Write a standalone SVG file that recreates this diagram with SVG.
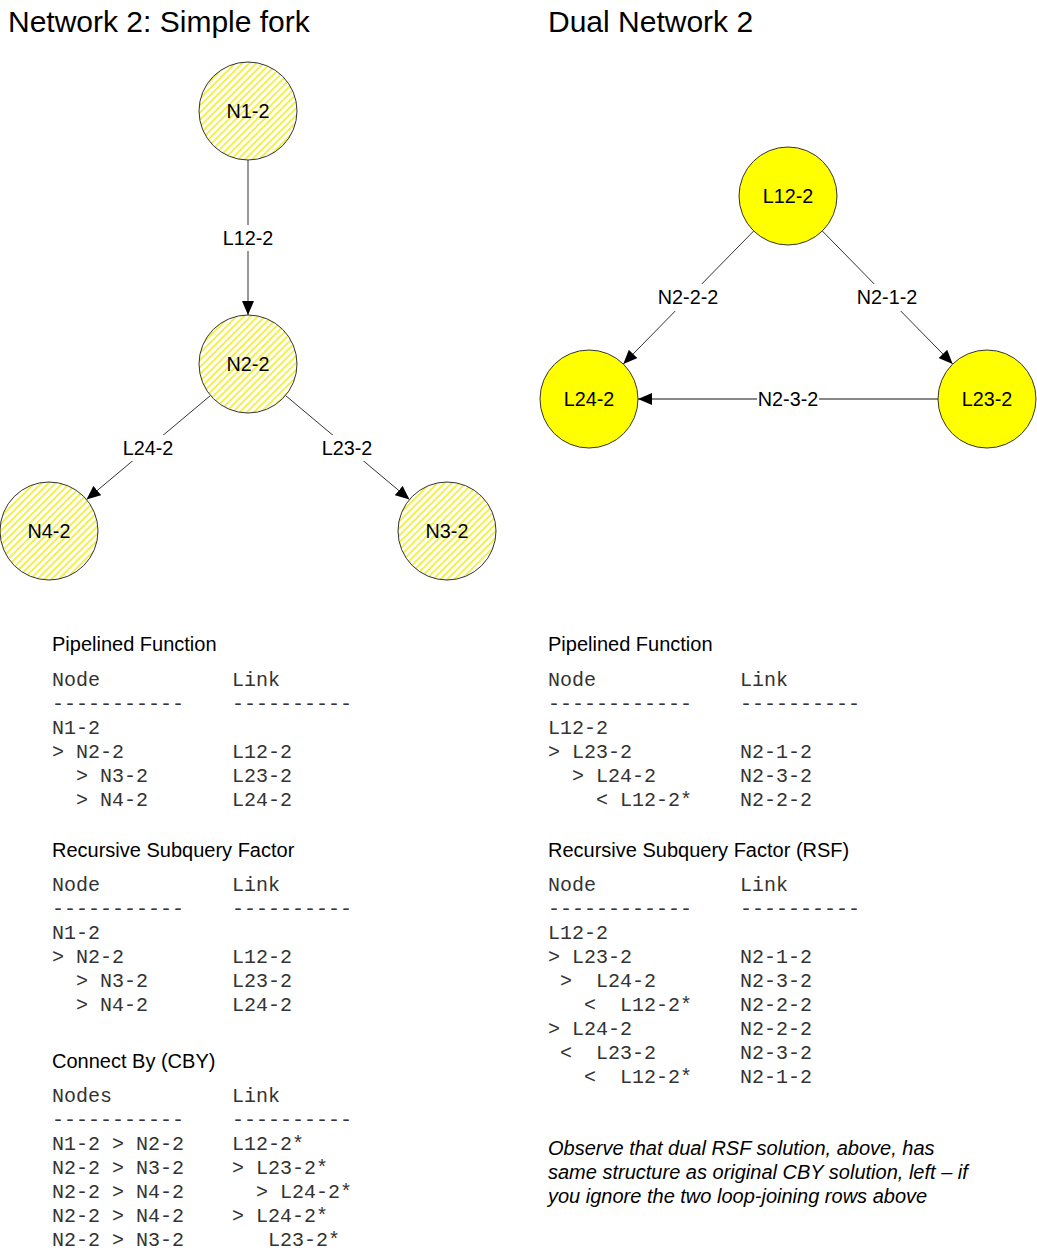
<svg xmlns="http://www.w3.org/2000/svg" width="1037" height="1253" viewBox="0 0 1037 1253">
<style>
.bg{fill:#fff}
.title{font-family:"Liberation Sans",Arial,sans-serif;font-size:30px;fill:#000}
.lbl{font-family:"Liberation Sans",Arial,sans-serif;font-size:19.8px;fill:#000;text-anchor:middle}
.head{font-family:"Liberation Sans",Arial,sans-serif;font-size:20px;fill:#000}
.note{font-family:"Liberation Sans",Arial,sans-serif;font-size:20px;font-style:italic;fill:#000}
.mono{font-family:"Liberation Mono","Courier New",monospace;font-size:20px;fill:#333;white-space:pre}
.hatch{fill:url(#hatch);stroke:#333;stroke-width:1}
.solid{fill:#ffff00;stroke:#333;stroke-width:1}
.edge{stroke:#333;stroke-width:1;fill:none;marker-end:url(#arrow)}
.gap{fill:#fff}
</style>
<defs>
<pattern id="hatch" patternUnits="userSpaceOnUse" width="5" height="5" patternTransform="rotate(45)">
<rect width="5" height="5" fill="#fff"/>
<line x1="1" y1="0" x2="1" y2="5" stroke="#eeea00" stroke-width="1.4"/>
</pattern>
<marker id="arrow" viewBox="0 0 14 12" markerWidth="14" markerHeight="12" refX="14" refY="6" orient="auto" markerUnits="userSpaceOnUse">
<path d="M0,0 L14,6 L0,12 z" fill="#000"/>
</marker>
</defs>
<rect class="bg" x="0" y="0" width="1037" height="1253"/>

<text class="title" x="8" y="32">Network 2: Simple fork</text>
<text class="title" x="548" y="32">Dual Network 2</text>

<g id="connectors">
<line class="edge" x1="248" y1="160" x2="248" y2="315"/>
<line class="edge" x1="210.5" y1="395.5" x2="86.5" y2="499.5"/>
<line class="edge" x1="285.5" y1="395.5" x2="409.5" y2="499.5"/>
<line class="edge" x1="753.7" y1="231" x2="623.3" y2="364"/>
<line class="edge" x1="822.3" y1="231" x2="952.7" y2="364"/>
<line class="edge" x1="938" y1="399" x2="638" y2="399" style="stroke:#111"/>
<rect class="gap" x="221" y="225" width="54" height="26"/>
<text class="lbl" x="248" y="245">L12-2</text>
<rect class="gap" x="121" y="435" width="55" height="26"/>
<text class="lbl" x="148" y="455">L24-2</text>
<rect class="gap" x="320" y="435" width="55" height="26"/>
<text class="lbl" x="347" y="455">L23-2</text>
<rect class="gap" x="657" y="284" width="63" height="27"/>
<text class="lbl" x="688" y="304">N2-2-2</text>
<rect class="gap" x="856" y="284" width="63" height="27"/>
<text class="lbl" x="887" y="304">N2-1-2</text>
<rect class="gap" x="757" y="389" width="62" height="20"/>
<text class="lbl" x="788" y="406">N2-3-2</text>
</g>

<g id="N1-2"><circle class="hatch" cx="248" cy="111" r="49"/><text class="lbl" x="248" y="118">N1-2</text></g>
<g id="N2-2"><circle class="hatch" cx="248" cy="364" r="49"/><text class="lbl" x="248" y="371">N2-2</text></g>
<g id="N4-2"><circle class="hatch" cx="49" cy="531" r="49"/><text class="lbl" x="49" y="538">N4-2</text></g>
<g id="N3-2"><circle class="hatch" cx="447" cy="531" r="49"/><text class="lbl" x="447" y="538">N3-2</text></g>

<g id="L12-2"><circle class="solid" cx="788" cy="196" r="49"/><text class="lbl" x="788" y="203">L12-2</text></g>
<g id="L24-2"><circle class="solid" cx="589" cy="399" r="49"/><text class="lbl" x="589" y="406">L24-2</text></g>
<g id="L23-2"><circle class="solid" cx="987" cy="399" r="49"/><text class="lbl" x="987" y="406">L23-2</text></g>

<g id="left-pipelined">
<text class="head" x="52" y="651">Pipelined Function</text>
<text class="mono" xml:space="preserve" x="52" y="686">Node</text>
<text class="mono" xml:space="preserve" x="232" y="686">Link</text>
<text class="mono" xml:space="preserve" x="52" y="710">-----------</text>
<text class="mono" xml:space="preserve" x="232" y="710">----------</text>
<text class="mono" xml:space="preserve" x="52" y="734">N1-2</text>
<text class="mono" xml:space="preserve" x="52" y="758">&gt; N2-2</text>
<text class="mono" xml:space="preserve" x="232" y="758">L12-2</text>
<text class="mono" xml:space="preserve" x="52" y="782">  &gt; N3-2</text>
<text class="mono" xml:space="preserve" x="232" y="782">L23-2</text>
<text class="mono" xml:space="preserve" x="52" y="806">  &gt; N4-2</text>
<text class="mono" xml:space="preserve" x="232" y="806">L24-2</text>
</g>

<g id="left-rsf">
<text class="head" x="52" y="857">Recursive Subquery Factor</text>
<text class="mono" xml:space="preserve" x="52" y="891">Node</text>
<text class="mono" xml:space="preserve" x="232" y="891">Link</text>
<text class="mono" xml:space="preserve" x="52" y="915">-----------</text>
<text class="mono" xml:space="preserve" x="232" y="915">----------</text>
<text class="mono" xml:space="preserve" x="52" y="939">N1-2</text>
<text class="mono" xml:space="preserve" x="52" y="963">&gt; N2-2</text>
<text class="mono" xml:space="preserve" x="232" y="963">L12-2</text>
<text class="mono" xml:space="preserve" x="52" y="987">  &gt; N3-2</text>
<text class="mono" xml:space="preserve" x="232" y="987">L23-2</text>
<text class="mono" xml:space="preserve" x="52" y="1011">  &gt; N4-2</text>
<text class="mono" xml:space="preserve" x="232" y="1011">L24-2</text>
</g>

<g id="left-cby">
<text class="head" x="52" y="1068">Connect By (CBY)</text>
<text class="mono" xml:space="preserve" x="52" y="1102">Nodes</text>
<text class="mono" xml:space="preserve" x="232" y="1102">Link</text>
<text class="mono" xml:space="preserve" x="52" y="1126">-----------</text>
<text class="mono" xml:space="preserve" x="232" y="1126">----------</text>
<text class="mono" xml:space="preserve" x="52" y="1150">N1-2 &gt; N2-2</text>
<text class="mono" xml:space="preserve" x="232" y="1150">L12-2*</text>
<text class="mono" xml:space="preserve" x="52" y="1174">N2-2 &gt; N3-2</text>
<text class="mono" xml:space="preserve" x="232" y="1174">&gt; L23-2*</text>
<text class="mono" xml:space="preserve" x="52" y="1198">N2-2 &gt; N4-2</text>
<text class="mono" xml:space="preserve" x="232" y="1198">  &gt; L24-2*</text>
<text class="mono" xml:space="preserve" x="52" y="1222">N2-2 &gt; N4-2</text>
<text class="mono" xml:space="preserve" x="232" y="1222">&gt; L24-2*</text>
<text class="mono" xml:space="preserve" x="52" y="1246">N2-2 &gt; N3-2</text>
<text class="mono" xml:space="preserve" x="232" y="1246">   L23-2*</text>
</g>

<g id="right-pipelined">
<text class="head" x="548" y="651">Pipelined Function</text>
<text class="mono" xml:space="preserve" x="548" y="686">Node</text>
<text class="mono" xml:space="preserve" x="740" y="686">Link</text>
<text class="mono" xml:space="preserve" x="548" y="710">------------</text>
<text class="mono" xml:space="preserve" x="740" y="710">----------</text>
<text class="mono" xml:space="preserve" x="548" y="734">L12-2</text>
<text class="mono" xml:space="preserve" x="548" y="758">&gt; L23-2</text>
<text class="mono" xml:space="preserve" x="740" y="758">N2-1-2</text>
<text class="mono" xml:space="preserve" x="548" y="782">  &gt; L24-2</text>
<text class="mono" xml:space="preserve" x="740" y="782">N2-3-2</text>
<text class="mono" xml:space="preserve" x="548" y="806">    &lt; L12-2*</text>
<text class="mono" xml:space="preserve" x="740" y="806">N2-2-2</text>
</g>

<g id="right-rsf">
<text class="head" x="548" y="857">Recursive Subquery Factor (RSF)</text>
<text class="mono" xml:space="preserve" x="548" y="891">Node</text>
<text class="mono" xml:space="preserve" x="740" y="891">Link</text>
<text class="mono" xml:space="preserve" x="548" y="915">------------</text>
<text class="mono" xml:space="preserve" x="740" y="915">----------</text>
<text class="mono" xml:space="preserve" x="548" y="939">L12-2</text>
<text class="mono" xml:space="preserve" x="548" y="963">&gt; L23-2</text>
<text class="mono" xml:space="preserve" x="740" y="963">N2-1-2</text>
<text class="mono" xml:space="preserve" x="548" y="987"> &gt;  L24-2</text>
<text class="mono" xml:space="preserve" x="740" y="987">N2-3-2</text>
<text class="mono" xml:space="preserve" x="548" y="1011">   &lt;  L12-2*</text>
<text class="mono" xml:space="preserve" x="740" y="1011">N2-2-2</text>
<text class="mono" xml:space="preserve" x="548" y="1035">&gt; L24-2</text>
<text class="mono" xml:space="preserve" x="740" y="1035">N2-2-2</text>
<text class="mono" xml:space="preserve" x="548" y="1059"> &lt;  L23-2</text>
<text class="mono" xml:space="preserve" x="740" y="1059">N2-3-2</text>
<text class="mono" xml:space="preserve" x="548" y="1083">   &lt;  L12-2*</text>
<text class="mono" xml:space="preserve" x="740" y="1083">N2-1-2</text>
</g>

<g id="note">
<text class="note" x="548" y="1155">Observe that dual RSF solution, above, has</text>
<text class="note" x="548" y="1179">same structure as original CBY solution, left – if</text>
<text class="note" x="548" y="1203">you ignore the two loop-joining rows above</text>
</g>
</svg>
